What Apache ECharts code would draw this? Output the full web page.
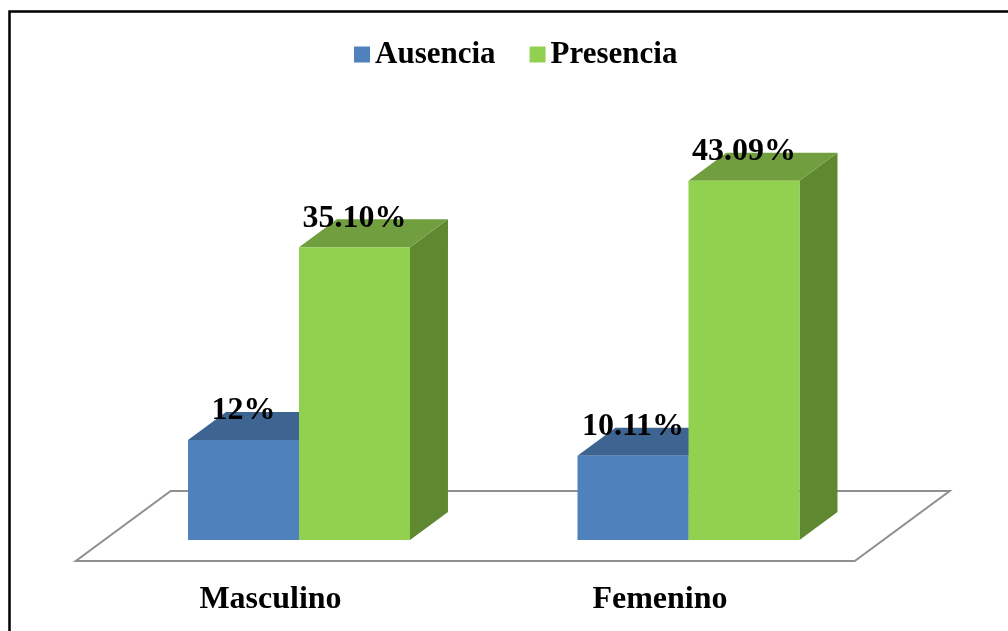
<!DOCTYPE html>
<html>
<head>
<meta charset="utf-8">
<script src="https://cdn.jsdelivr.net/npm/echarts@6/dist/echarts.min.js"></script>
<style>
  html, body { margin: 0; padding: 0; background: #fff; }
  #chart { width: 1008px; height: 631px; }
</style>
</head>
<body>
<div id="chart"></div>
<script>
// Sex categories and the two groups plotted for each
const categories = ['Masculino', 'Femenino'];
const seriesNames = ['Ausencia', 'Presencia'];
const ausencia = [12, 10.11];
const presencia = [35.10, 43.09];
const ausenciaLabels = ['12%', '10.11%'];
const presenciaLabels = ['35.10%', '43.09%'];

const FONT = '"Liberation Serif", "Times New Roman", serif';

// Bar geometry relative to the category band
const BAR_FRAC = 0.285;     // bar width / band width
const DEPTH_X = 0.342;      // depth offset (x) / bar width
const DEPTH_Y = -0.252;     // depth offset (y) / bar width

function makeBarRenderer(offset, faces, labels) {
  return function (params, api) {
    const cat = api.value(0);
    const val = api.value(1);
    const base = api.coord([cat, 0]);
    const top = api.coord([cat, val]);
    const bw = api.size([1, 0])[0] * BAR_FRAC;
    const dx = bw * DEPTH_X, dy = bw * DEPTH_Y;
    const x0 = base[0] + offset * bw, x1 = x0 + bw;
    const yb = base[1], yt = top[1];
    return {
      type: 'group',
      children: [
        { type: 'polygon', shape: { points: [[x1, yb], [x1 + dx, yb + dy], [x1 + dx, yt + dy], [x1, yt]] },
          style: { fill: faces.side } },
        { type: 'polygon', shape: { points: [[x0, yt], [x1, yt], [x1 + dx, yt + dy], [x0 + dx, yt + dy]] },
          style: { fill: faces.top } },
        { type: 'rect', shape: { x: x0, y: yt, width: bw, height: yb - yt },
          style: { fill: faces.front } },
        { type: 'text', z2: 10,
          style: { text: labels[params.dataIndex], x: x0 + bw / 2, y: yt - 29,
                   align: 'center', verticalAlign: 'middle',
                   font: 'bold 32px ' + FONT, fill: '#000' } }
      ]
    };
  };
}

// Floor plane under the bars, spanning the plotting area
function renderFloor(params, api) {
  const cs = params.coordSys;
  const y0 = api.coord([0, 0])[1];
  const bw = api.size([1, 0])[0] * BAR_FRAC;
  const dx = bw * DEPTH_X, dy = bw * DEPTH_Y;
  const left = cs.x, right = cs.x + cs.width;
  const f = -0.75, b = 1.75;
  return {
    type: 'polygon',
    shape: { points: [
      [left + f * dx, y0 + f * dy], [right + f * dx, y0 + f * dy],
      [right + b * dx, y0 + b * dy], [left + b * dx, y0 + b * dy]
    ] },
    style: { fill: '#fff', stroke: '#8f8f8f', lineWidth: 2 }
  };
}

const chart = echarts.init(document.getElementById('chart'), null, { renderer: 'canvas' });
chart.setOption({
  backgroundColor: '#fff',
  animation: false,
  graphic: [{
    type: 'rect', z: 100,
    shape: { x: 9.5, y: 11.5, width: 1100, height: 700 },
    style: { fill: 'none', stroke: '#000', lineWidth: 2.5 }
  }],
  legend: {
    data: seriesNames,
    left: 354, top: 39, padding: 0,
    icon: 'rect', itemWidth: 16, itemHeight: 16, itemGap: 34,
    textStyle: { fontFamily: FONT, fontWeight: 'bold', fontSize: 31, color: '#000' }
  },
  grid: { left: 104.25, right: 124.75, top: 123, bottom: 91, outerBoundsMode: 'none' },
  xAxis: {
    type: 'category', data: categories,
    axisLine: { show: false }, axisTick: { show: false }, splitLine: { show: false },
    axisLabel: {
      margin: 44, align: 'center', padding: [0, 57, 0, 0],
      fontFamily: FONT, fontWeight: 'bold', fontSize: 32, color: '#000'
    }
  },
  yAxis: { type: 'value', min: 0, max: 50, show: false, splitLine: { show: false } },
  series: [
    { type: 'custom', name: 'floor', renderItem: renderFloor, data: [[0, 0]], z: 1, silent: true },
    { type: 'custom', name: 'Ausencia', itemStyle: { color: '#4F81BD' }, z: 2,
      renderItem: makeBarRenderer(-1, { front: '#4F81BD', top: '#3E6491', side: '#385D8A' }, ausenciaLabels),
      data: ausencia.map((v, i) => [i, v]) },
    { type: 'custom', name: 'Presencia', itemStyle: { color: '#92D050' }, z: 3,
      renderItem: makeBarRenderer(0, { front: '#92D050', top: '#719F3F', side: '#5F8831' }, presenciaLabels),
      data: presencia.map((v, i) => [i, v]) }
  ]
});
</script>
</body>
</html>
